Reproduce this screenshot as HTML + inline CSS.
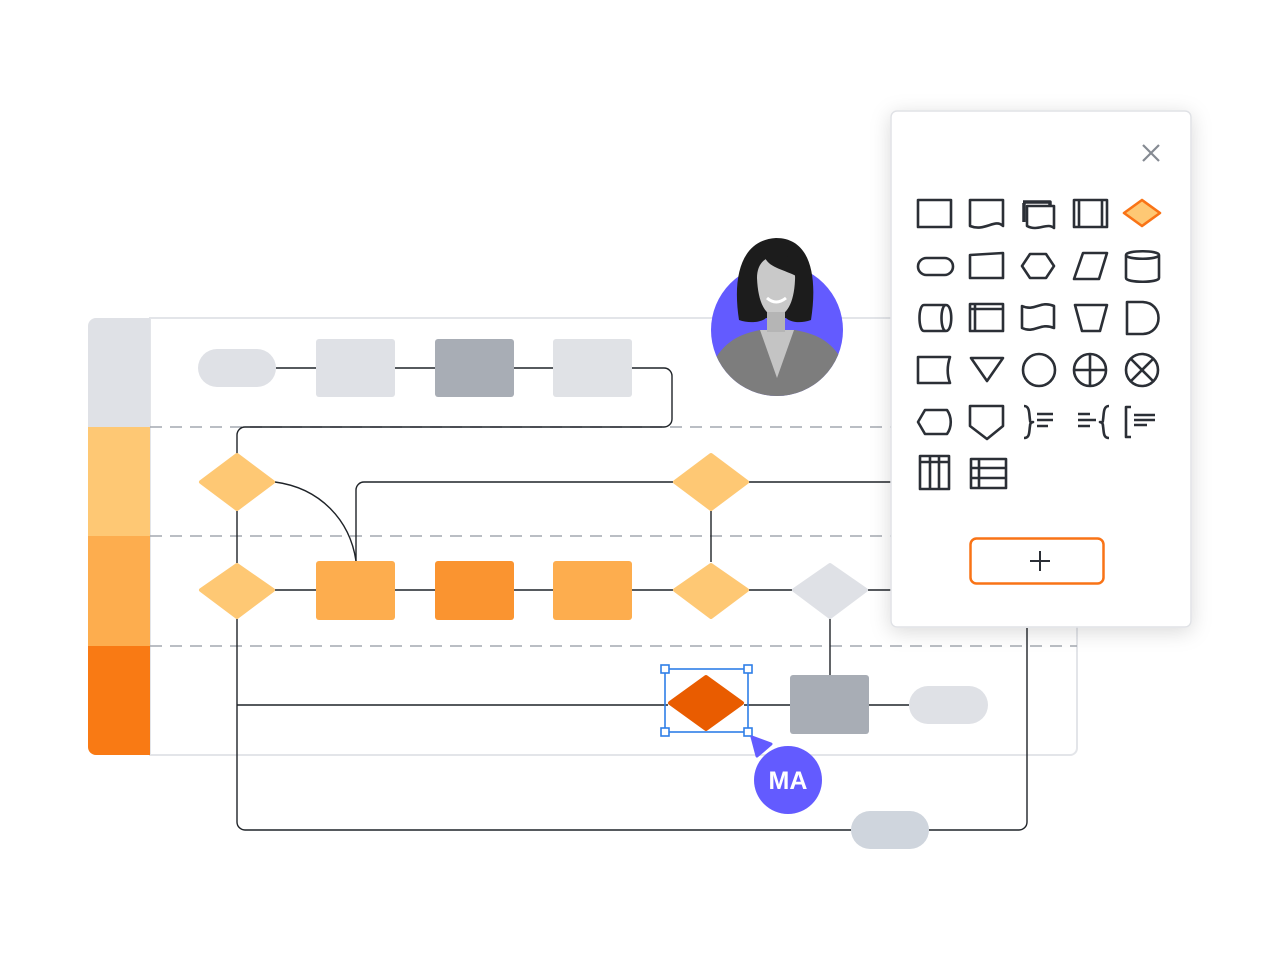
<!DOCTYPE html>
<html><head><meta charset="utf-8"><style>
html,body{margin:0;padding:0;background:#fff;width:1280px;height:960px;overflow:hidden}
svg{display:block}
</style></head><body>
<svg width="1280" height="960" viewBox="0 0 1280 960" xmlns="http://www.w3.org/2000/svg">
<defs>
<filter id="sh" x="-20%" y="-20%" width="140%" height="140%"><feDropShadow dx="0" dy="4" stdDeviation="10" flood-color="#000" flood-opacity="0.15"/></filter>
<clipPath id="cc"><circle cx="777" cy="330" r="66"/></clipPath>
</defs>
<!-- board -->
<path d="M150 318 H1070 a7 7 0 0 1 7 7 V748 a7 7 0 0 1 -7 7 H150 Z" fill="#fff" stroke="#e3e5e9" stroke-width="2"/>
<path d="M96 318 H150 V427 H88 V326 a8 8 0 0 1 8 -8Z" fill="#dfe1e6"/>
<rect x="88" y="427" width="62" height="109" fill="#fec874"/>
<rect x="88" y="536" width="62" height="110" fill="#fdad4e"/>
<path d="M88 646 H150 V755 H96 a8 8 0 0 1 -8 -8Z" fill="#f97a14"/>
<g stroke="#a3a8b0" stroke-width="1.6" stroke-dasharray="12 8">
<line x1="150" y1="427" x2="1077" y2="427"/><line x1="150" y1="536" x2="1077" y2="536"/><line x1="150" y1="646" x2="1077" y2="646"/>
</g>
<!-- connectors -->
<g fill="none" stroke="#1f2328" stroke-width="1.4">
<path d="M276 368 H553 M632 368 H664 a8 8 0 0 1 8 8 V419 a8 8 0 0 1 -8 8 H245 a8 8 0 0 0 -8 8 V455"/>
<path d="M275 482 C320 488 350 520 356 561"/>
<path d="M356 561 V490 a8 8 0 0 1 8 -8 H673 M749 482 H892"/>
<path d="M711 511 V562"/>
<path d="M237 511 V563 M275 590 H673 M749 590 H792 M868 590 H892"/>
<path d="M237 619 V822 a8 8 0 0 0 8 8 H851 M929 830 H1019 a8 8 0 0 0 8 -8 V628"/>
<path d="M237 705 H668 M744 705 H790 M869 705 H909 M830 619 V675"/>
</g>
<!-- row1 -->
<rect x="198" y="349" width="78" height="38" rx="19" fill="#dfe1e6"/>
<rect x="316" y="339" width="79" height="58" rx="3" fill="#dfe1e6"/>
<rect x="435" y="339" width="79" height="58" rx="3" fill="#a8adb5"/>
<rect x="553" y="339" width="79" height="58" rx="3" fill="#e0e2e6"/>
<!-- diamonds -->
<g stroke-linejoin="round">
<path d="M237 455 L273 482 L237 509 L201 482Z" fill="#fec874" stroke="#fec874" stroke-width="4"/>
<path d="M711 455 L747 482 L711 509 L675 482Z" fill="#fec874" stroke="#fec874" stroke-width="4"/>
<path d="M237 565 L273 590 L237 617 L201 590Z" fill="#fec874" stroke="#fec874" stroke-width="4"/>
<path d="M711 565 L747 590 L711 617 L675 590Z" fill="#fec874" stroke="#fec874" stroke-width="4"/>
<path d="M830 565 L866 590 L830 617 L794 590Z" fill="#dfe1e6" stroke="#dfe1e6" stroke-width="4"/>
<path d="M706 677 L742 703 L706 729 L670 703Z" fill="#e95c00" stroke="#e95c00" stroke-width="4"/>
</g>
<rect x="316" y="561" width="79" height="59" rx="3" fill="#fdad4e"/>
<rect x="435" y="561" width="79" height="59" rx="3" fill="#fa9430"/>
<rect x="553" y="561" width="79" height="59" rx="3" fill="#fdad4e"/>
<rect x="790" y="675" width="79" height="59" rx="3" fill="#a8adb5"/>
<rect x="909" y="686" width="79" height="38" rx="19" fill="#dfe1e6"/>
<rect x="851" y="811" width="78" height="38" rx="19" fill="#cfd5dd"/>
<!-- selection -->
<g fill="#fff" stroke="#2f7fe8" stroke-width="1.6">
<rect x="665" y="669" width="83" height="63" fill="none"/>
<rect x="661" y="665" width="8" height="8"/><rect x="744" y="665" width="8" height="8"/>
<rect x="661" y="728" width="8" height="8"/><rect x="744" y="728" width="8" height="8"/>
</g>
<path d="M752 737 L771 744 L757 756Z" fill="#635bff" stroke="#635bff" stroke-width="3" stroke-linejoin="round"/>
<circle cx="788" cy="780" r="34" fill="#635bff"/>
<text x="788" y="789" text-anchor="middle" font-family="Liberation Sans, sans-serif" font-weight="bold" font-size="25" fill="#fff">MA</text>
<!-- avatar -->
<circle cx="777" cy="330" r="66" fill="#635bff"/>
<g clip-path="url(#cc)">
<path d="M700 400 C712 345 735 335 760 330 L795 330 C822 335 845 345 855 400Z" fill="#7d7d7d"/>
<path d="M760 330 L777 378 L794 330Z" fill="#c4c4c4"/>
</g>
<path d="M739 320 C732 275 742 240 776 238 C810 238 818 275 811 320 C800 324 790 322 786 318 L766 318 C762 322 750 324 739 320Z" fill="#1c1c1c"/>
<path d="M757 278 C757 262 767 256 777 256 C788 256 796 264 795 280 C794 304 786 316 776 316 C765 316 758 302 757 278Z" fill="#c9c9c9"/>
<path d="M765 258 C770 268 785 270 796 276 L796 262 C790 254 770 252 765 258Z" fill="#1c1c1c"/>
<rect x="767" y="312" width="18" height="20" fill="#b5b5b5"/>
<path d="M767 298 Q776 306 786 298" stroke="#fff" stroke-width="3" fill="none"/>
<!-- panel -->
<rect x="891" y="111" width="300" height="516" rx="6" fill="#fff" stroke="#e0e2e6" stroke-width="1.5" filter="url(#sh)"/>
<path d="M1143 145 L1159 161 M1159 145 L1143 161" stroke="#858a92" stroke-width="2.2"/>
<g fill="none" stroke="#2b2f36" stroke-width="2.6" stroke-linejoin="round">
<rect x="918" y="200" width="33" height="27"/>
<path d="M970 200 H1003 V226 C995 218 985 232 970 226Z"/>
<path d="M1027 206 H1054 V228 C1047 222 1038 232 1027 226Z"/>
<path d="M1024 203 V222 M1023 202 H1050 V205" stroke-width="3.5"/>
<rect x="1074" y="200" width="33" height="27"/><path d="M1079 200 V227 M1102 200 V227"/>
<path d="M1142 200 L1160 213 L1142 226 L1124 213Z" fill="#fec874" stroke="#f97316" stroke-width="2.6"/>
<rect x="918" y="258" width="35" height="17" rx="8.5"/>
<path d="M970 255 L1003 253 V278 H970Z"/>
<path d="M1022 266 L1030 254 H1046 L1054 266 L1046 278 H1030Z"/>
<path d="M1083 253 H1107 L1099 279 H1074Z"/>
<path d="M1126 255 V278 C1126 283 1159 283 1159 278 V255 C1159 250 1126 250 1126 255 C1126 260 1159 260 1159 255"/>
<path d="M924 305 H946 C953 305 953 331 946 331 H924 C918 331 918 305 924 305Z M946 305 C940 305 940 331 946 331"/>
<rect x="970" y="304" width="33" height="27"/><path d="M970 309 H1003 M975 304 V331"/>
<path d="M1022 306 C1035 312 1040 300 1054 306 V328 C1040 322 1035 334 1022 328Z"/>
<path d="M1075 305 H1107 L1100 331 H1082Z"/>
<path d="M1127 302 H1142 C1164 302 1164 334 1142 334 H1127Z"/>
<path d="M918 357 H950 C947 366 947 375 950 383 H918Z"/>
<path d="M971 358 H1003 L987 381Z"/>
<circle cx="1039" cy="370" r="16"/>
<circle cx="1090" cy="370" r="16"/><path d="M1074 370 H1106 M1090 354 V386"/>
<circle cx="1142" cy="370" r="16"/><path d="M1131 359 L1153 381 M1153 359 L1131 381"/>
<path d="M925 410 H947 C952 417 952 427 947 434 H925 L918 422Z"/>
<path d="M970 406 H1003 V426 L987 439 L970 426Z"/>
<path d="M1024 406 C1030 406 1029 414 1030 420 C1030 424 1033 422 1033 422 C1033 422 1030 422 1030 426 C1029 432 1030 438 1024 438"/>
<path d="M1037 414 H1053 M1037 420 H1053 M1037 426 H1048"/>
<path d="M1109 406 C1103 406 1104 414 1103 420 C1103 424 1100 422 1100 422 C1100 422 1103 422 1103 426 C1104 432 1103 438 1109 438"/>
<path d="M1078 414 H1090 M1078 420 H1096 M1078 426 H1090"/>
<path d="M1131 407 H1126 V437 H1131 M1134 415 H1155 M1134 420 H1155 M1134 425 H1147"/>
<rect x="920" y="456" width="29" height="33"/><path d="M920 462 H949 M930 456 V489 M939 456 V489"/>
<rect x="971" y="459" width="35" height="29"/><path d="M971 468 H1006 M971 478 H1006 M979 459 V488"/>
</g>
<rect x="970.5" y="538.5" width="133" height="45" rx="6" fill="#fff" stroke="#f97316" stroke-width="2.5"/>
<path d="M1030 561 H1050 M1040 551 V571" stroke="#2b2f36" stroke-width="2"/>
</svg>
</body></html>
